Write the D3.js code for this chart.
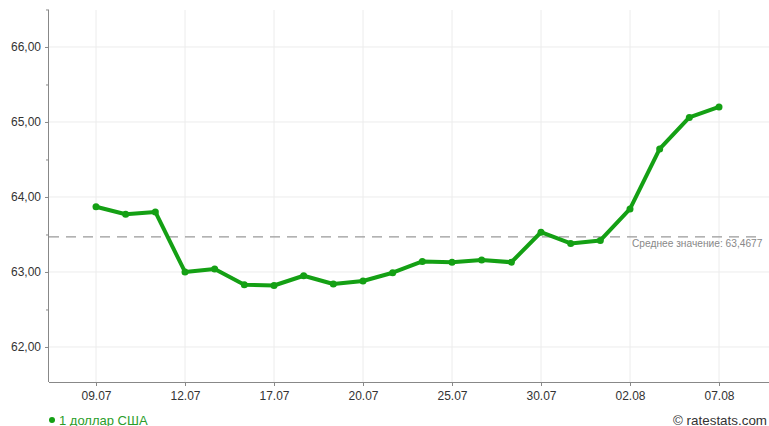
<!DOCTYPE html>
<html><head><meta charset="utf-8">
<script src="https://cdn.jsdelivr.net/npm/d3@7"></script>
<style>body{margin:0;background:#fff}svg{display:block;font-family:"Liberation Sans",Arial,sans-serif}</style>
</head><body>
<svg id="c" width="769" height="426"></svg>
<script>
const dates = ["09.07","10.07","11.07","12.07","13.07","16.07","17.07","18.07","19.07","20.07","23.07","24.07","25.07","26.07","27.07","30.07","31.07","01.08","02.08","03.08","06.08","07.08"];
const values = [63.87,63.77,63.80,63.00,63.04,62.83,62.82,62.95,62.84,62.88,62.99,63.14,63.13,63.16,63.13,63.53,63.38,63.42,63.84,64.64,65.06,65.20];
const tickDates = ["09.07","12.07","17.07","20.07","25.07","30.07","02.08","07.08"];
const yTicks = [62,63,64,65,66];
const yMinorTicks = [62.5,63.5,64.5,65.5,66.5];
const average = 63.4677;
const seriesName = "1 доллар США";
const avgLabel = "Среднее значение: 63,4677";
const credit = "© ratestats.com";

const svg = d3.select("#c");
const L = 49, R = 769, T = 10, B = 382;
const x = d3.scalePoint().domain(dates).range([96, 719]);
const y = d3.scaleLinear().domain([61.533, 66.493]).range([B, T]);
const fmt = v => d3.format(".2f")(v).replace(".", ",");

// grid
svg.append("g").selectAll("line").data(yTicks).join("line")
  .attr("x1", L).attr("x2", R).attr("y1", d => y(d)).attr("y2", d => y(d))
  .attr("stroke", "#ececec").attr("stroke-width", 1);
svg.append("g").selectAll("line").data(tickDates).join("line")
  .attr("x1", d => x(d)).attr("x2", d => x(d)).attr("y1", T).attr("y2", B)
  .attr("stroke", "#ececec").attr("stroke-width", 1);

// y axis
const ya = svg.append("g").attr("transform", `translate(${L},0)`)
  .call(d3.axisLeft(y).tickValues(yTicks).tickFormat(fmt).tickSize(4).tickPadding(4));
svg.append("g").attr("transform", `translate(${L},0)`)
  .call(d3.axisLeft(y).tickValues(yMinorTicks).tickFormat("").tickSize(3))
  .call(g => g.select(".domain").remove());
// x axis
const xa = svg.append("g").attr("transform", `translate(0,${B})`)
  .call(d3.axisBottom(x).tickValues(tickDates).tickSize(4).tickPadding(5));
svg.selectAll(".domain").attr("stroke", "#888");
svg.selectAll(".tick line").attr("stroke", "#888");
svg.selectAll(".tick text").attr("fill", "#333").attr("font-size", 12)
  .attr("font-family", "'Liberation Sans',Arial,sans-serif");
xa.select(".domain").attr("d", `M${L},0.5H${R}`);
ya.select(".domain").attr("d", `M-0.5,${T}V${B}`);

// average line
svg.append("line").attr("x1", L).attr("x2", 762)
  .attr("y1", y(average)).attr("y2", y(average))
  .attr("stroke", "#999").attr("stroke-width", 1.2).attr("stroke-dasharray", "10,7");
svg.append("text").attr("x", 632).attr("y", y(average) + 10)
  .attr("font-size", 10.2).attr("fill", "#888").text(avgLabel);

// series
const line = d3.line().x((d, i) => x(dates[i])).y(d => y(d));
svg.append("path").datum(values).attr("d", line)
  .attr("fill", "none").attr("stroke", "#14a014").attr("stroke-width", 4)
  .attr("stroke-linejoin", "round").attr("stroke-linecap", "round");
svg.append("g").selectAll("circle").data(values).join("circle")
  .attr("cx", (d, i) => x(dates[i])).attr("cy", d => y(d)).attr("r", 3.5)
  .attr("fill", "#14a014");

// legend
svg.append("circle").attr("cx", 52).attr("cy", 420).attr("r", 3).attr("fill", "#14a014");
svg.append("text").attr("x", 59).attr("y", 424.5).attr("font-size", 13)
  .attr("fill", "#2a9d2a").text(seriesName);
svg.append("text").attr("x", 767).attr("y", 424.5).attr("font-size", 13.4)
  .attr("text-anchor", "end").attr("fill", "#333").text(credit);
</script>
</body></html>
